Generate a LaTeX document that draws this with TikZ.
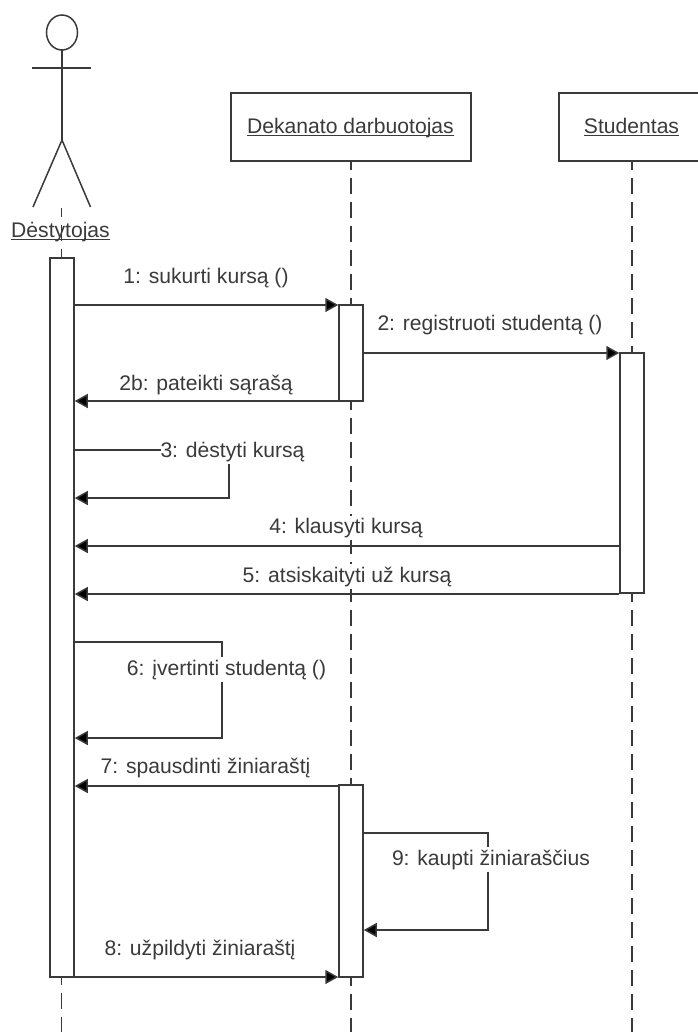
\documentclass[tikz,border=0pt]{standalone}
\usepackage{fontspec}
\setmainfont{Liberation Sans}
\usetikzlibrary{arrows.meta,shapes.geometric}
\definecolor{ink}{HTML}{3A3A3A}
\newcommand{\myul}[1]{\setbox0\hbox{#1}\rlap{\raisebox{-2.8bp}{\rule{\wd0}{1.2bp}}}\box0}
\tikzset{
  ln/.style={draw=ink,line width=1.5bp},
  life/.style={ln,dash pattern=on 16bp off 8bp,dash phase=#1},
  actor/.style={ln,fill=white,rectangle,inner sep=0pt,minimum width=#1,minimum height=68bp},
  act/.style={ln,fill=white,rectangle,inner sep=0pt,minimum width=24bp,minimum height=#1},
  msg/.style={ln,-{Triangle[length=13bp,width=14bp,fill=black]}},
  lbl/.style={text=ink,font=\fontsize{21.2}{25}\selectfont,inner xsep=0pt,inner ysep=2.5bp,anchor=base},
  lblw/.style={lbl,fill=white},
  pt/.style={inner sep=0pt,outer sep=0pt}
}
\begin{document}
\begin{tikzpicture}[x=1bp,y=-1bp]
\useasboundingbox (0,0) rectangle (698,1032);
% actor
\node[ln,ellipse,pt,minimum width=31bp,minimum height=35bp] (head) at (62,32.5) {};
\coordinate (hip) at (62,140);
\coordinate (armL) at (32,68);
\coordinate (armR) at (91,68);
\coordinate (legL) at (33,207);
\coordinate (legR) at (90.5,207);
\draw[ln] (head.south) -- (hip);
\draw[ln] (armL) -- (armR);
\draw[ln] (legL) -- (hip) -- (legR);
% heads
\node[actor=240bp] (dek) at (351,127) {};
\node[actor=140bp] (stu) at (629,127) {};
% lifeline ends
\coordinate (tTop) at (61.7,208);
\coordinate (tBot) at (61.7,1032);
\coordinate (dBot) at (351,1032);
\coordinate (sBot) at (632,1032);
\draw[life=7bp] (tTop) -- (tBot);
\draw[life=8bp] (dek.south) -- (dBot);
\draw[life=8bp] (stu.south -| sBot) -- (sBot);
% activations
\node[act=719bp] (ta) at (62,617.5) {};
\node[act=96bp] (da) at (351,353) {};
\node[act=240bp] (sa) at (632,473) {};
\node[act=192bp] (db) at (351,881) {};
% head labels
\node[lbl] (dekl) at (350.5,133) {\myul{Dekanato darbuotojas}};
\node[lbl] (stul) at (631.5,133) {\myul{Studentas}};
\node[lbl] (tl) at (60.5,237) {\myul{Dėstytojas}};
% message anchors
\coordinate (m1a) at (ta.east |- 0,305);
\coordinate (m1b) at (da.west |- 0,305);
\coordinate (m2a) at (da.east |- 0,353);
\coordinate (m2b) at (sa.west |- 0,353);
\coordinate (m2ca) at (da.west |- 0,401);
\coordinate (m2cb) at (ta.east |- 0,401);
\coordinate (m3a) at (ta.east |- 0,450);
\coordinate (m3b) at (229,450);
\coordinate (m3c) at (229,498);
\coordinate (m3d) at (ta.east |- 0,498);
\coordinate (m4a) at (sa.west |- 0,546);
\coordinate (m4b) at (ta.east |- 0,546);
\coordinate (m5a) at (sa.west |- 0,594);
\coordinate (m5b) at (ta.east |- 0,594);
\coordinate (m6a) at (ta.east |- 0,642);
\coordinate (m6b) at (222,642);
\coordinate (m6c) at (222,738);
\coordinate (m6d) at (ta.east |- 0,738);
\coordinate (m7a) at (db.west |- 0,786);
\coordinate (m7b) at (ta.east |- 0,786);
\coordinate (m8a) at (ta.east |- 0,977);
\coordinate (m8b) at (db.west |- 0,977);
\coordinate (m9a) at (db.east |- 0,833);
\coordinate (m9b) at (488,833);
\coordinate (m9c) at (488,930);
\coordinate (m9d) at (db.east |- 0,930);
% messages
\draw[msg] (m1a) -- (m1b);
\draw[msg] (m2a) -- (m2b);
\draw[msg] (m2ca) -- (m2cb);
\draw[msg] (m3a) -- (m3b) -- (m3c) -- (m3d);
\draw[msg] (m4a) -- (m4b);
\draw[msg] (m5a) -- (m5b);
\draw[msg] (m6a) -- (m6b) -- (m6c) -- (m6d);
\draw[msg] (m7a) -- (m7b);
\draw[msg] (m8a) -- (m8b);
\draw[msg] (m9a) -- (m9b) -- (m9c) -- (m9d);
% labels
\node[lbl] (l1) at (206,283.5) {1: sukurti kursą ()};
\node[lbl] (l2) at (490,330) {2: registruoti studentą ()};
\node[lbl] (l2b) at (206,390) {2b: pateikti sąrašą};
\node[lblw] (l3) at (232.5,457) {3: dėstyti kursą};
\node[lblw] (l4) at (346,533.5) {4: klausyti kursą};
\node[lblw] (l5) at (347,582) {5: atsiskaityti už kursą};
\node[lblw] (l6) at (226.5,675) {6: įvertinti studentą ()};
\node[lbl] (l7) at (205.5,773) {7: spausdinti žiniaraštį};
\node[lbl] (l8) at (200,955) {8: užpildyti žiniaraštį};
\node[lblw] (l9) at (491,865) {9: kaupti žiniaraščius};
\end{tikzpicture}
\end{document}
